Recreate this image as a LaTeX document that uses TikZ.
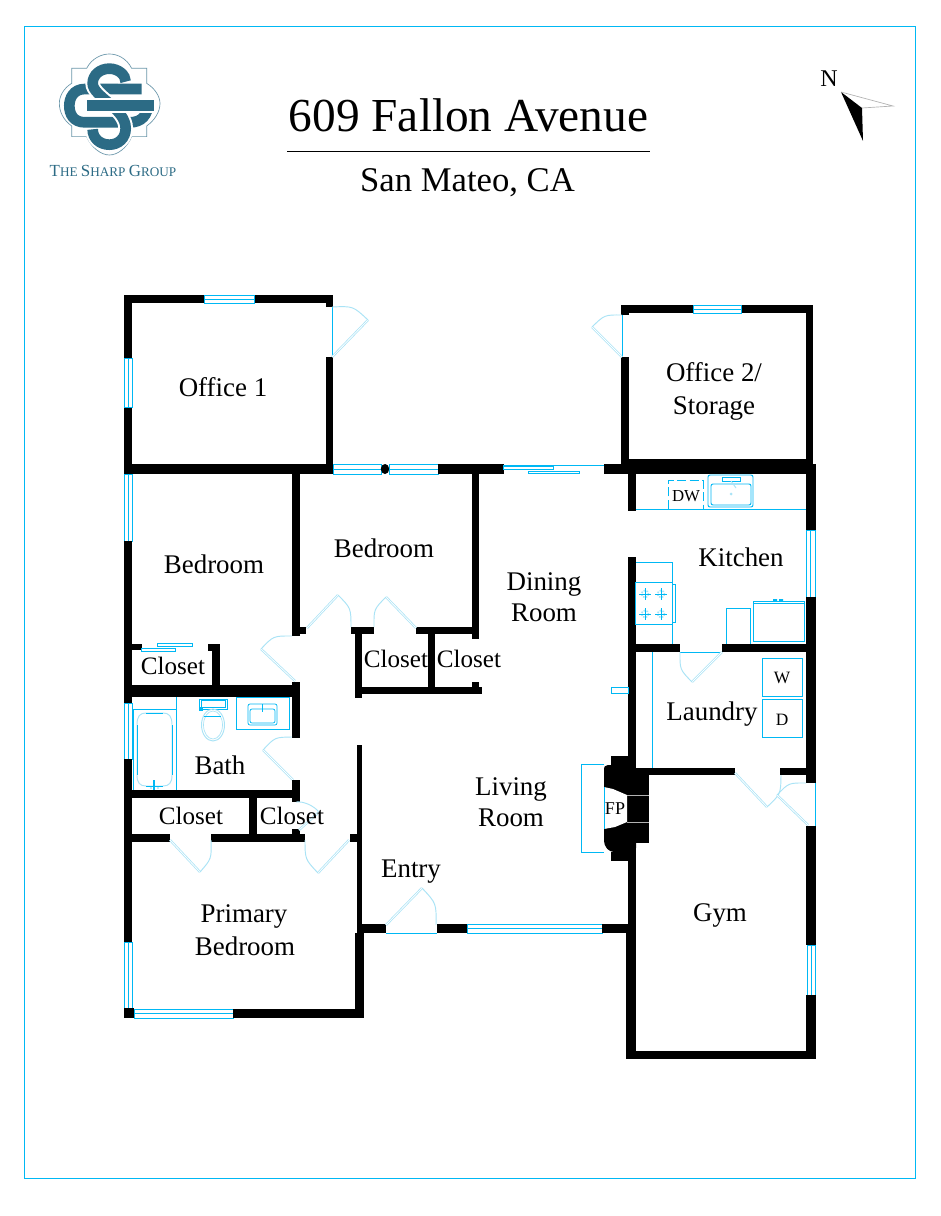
\documentclass[tikz,border=0pt]{standalone}
\usepackage{fontspec}
\setmainfont{Liberation Serif}
\usetikzlibrary{calc}
\definecolor{cy}{HTML}{00B8F4}
\definecolor{cylight}{HTML}{A9E3F6}
\definecolor{teal}{HTML}{2C6B85}
\tikzset{
  wall/.style={fill=black,draw=none},
  cyline/.style={draw=cy,line width=0.72pt},
  cythin/.style={draw=cy,line width=0.55pt},
  room/.style={font=\fontsize{20.2}{24}\selectfont,inner sep=0pt,align=center,text=black},
  clos/.style={font=\fontsize{18.8}{24}\selectfont,inner sep=0pt,align=center,text=black},
  small/.style={font=\fontsize{13}{15}\selectfont,inner sep=0pt,text=black},
}
\newcommand{\wl}[4]{\fill[wall] (#1,#2) rectangle (#3,#4);}
\newcommand{\winH}[4]{\fill[white] (#1,#3) rectangle (#2,#4);
  \draw[cyline] (#1,#3) rectangle (#2,#4);
  \draw[cythin] (#1,{(#3+#4)/2}) -- (#2,{(#3+#4)/2});}
\newcommand{\winV}[4]{\fill[white] (#1,#3) rectangle (#2,#4);
  \draw[cyline] (#1,#3) rectangle (#2,#4);
  \draw[cythin] ({(#1+#2)/2},#3) -- ({(#1+#2)/2},#4);}
% hinge, tip, end of swing
\newcommand{\doorx}[6]{%
  \draw[cylight,line width=1.7pt] (#1,#2) -- (#3,#4);
  \draw[white,line width=0.6pt] (#1,#2) -- (#3,#4);
  \draw[cylight,line width=0.7pt] (#3,#4) .. controls ($(#1,#2)!1.1716!($(#3,#4)!.5!(#5,#6)$)$) .. (#5,#6);}
\begin{document}
\begin{tikzpicture}[x=.75pt,y=-.75pt]
\useasboundingbox (0,0) rectangle (940,1216);
\fill[white] (0,0) rectangle (940,1216);
\draw[cy,line width=0.7pt] (24.5,26) rectangle (915,1178);

% --- logo
\begin{scope}[shift={(30,40)},x=.25pt,y=-.25pt]
  \draw[teal!70,line width=0.5pt] (125,85) -- (170,85) .. controls (185,55) and (215,42) .. (238,42) .. controls (262,42) and (290,55) .. (305,85) -- (350,85) -- (350,130) .. controls (375,145) and (390,170) .. (390,190) .. controls (390,215) and (375,240) .. (350,258) -- (350,290) -- (305,290) .. controls (290,325) and (262,345) .. (238,345) .. controls (215,345) and (185,325) .. (170,290) -- (125,290) -- (125,258) .. controls (100,240) and (88,215) .. (88,190) .. controls (88,170) and (100,145) .. (125,130) -- cycle;
  % left C with top and lower bars
  \draw[teal,line width=8pt] (335,147) -- (165,147) .. controls (130,147) and (118,175) .. (118,197) .. controls (118,222) and (130,247) .. (165,247) -- (290,247);
  % right hook
  \draw[teal,line width=8pt] (354,190) .. controls (354,225) and (335,247) .. (300,247);
  % S
  \draw[white,line width=11pt] (287,125) .. controls (287,105) and (265,86) .. (238,86) .. controls (210,86) and (188,105) .. (188,130) .. controls (188,170) and (287,205) .. (287,265) .. controls (287,295) and (265,314) .. (238,314) .. controls (210,314) and (188,295) .. (188,268);
  \draw[teal,line width=8pt] (287,125) .. controls (287,105) and (265,86) .. (238,86) .. controls (210,86) and (188,105) .. (188,130) .. controls (188,170) and (287,205) .. (287,265) .. controls (287,295) and (265,314) .. (238,314) .. controls (210,314) and (188,295) .. (188,268);
  % middle bar
  \draw[white,line width=11pt] (172,197) -- (372,197);
  \draw[teal,line width=8pt] (172,197) -- (372,197);
\end{scope}
\node[inner sep=0pt,text=teal] (logotext) at (113,171) {\fontsize{12.7}{15}\selectfont T\fontsize{9.9}{15}\selectfont HE \fontsize{12.7}{15}\selectfont S\fontsize{9.9}{15}\selectfont HARP \fontsize{12.7}{15}\selectfont G\fontsize{9.9}{15}\selectfont ROUP};

% --- title
\node[inner sep=0pt] (title) at (468.5,115) {\fontsize{35.5}{40}\selectfont 609 Fallon Avenue};
\draw[black,line width=0.6pt] (287,151) -- (650,151);
\node[inner sep=0pt] (subtitle) at (467.5,183) {\fontsize{26}{30}\selectfont San Mateo, CA};

% --- compass
\node[inner sep=0pt] (north) at (829,79) {\fontsize{18}{22}\selectfont N};
\fill[black] (841,92) -- (862,108) -- (863,141) -- cycle;
\draw[gray!60,line width=0.5pt] (841,92) -- (893,106) -- (862,108);

% --- Office 1
\wl{124}{295}{333}{303}
\wl{124}{295}{132}{474}
\wl{326}{295}{333}{307}
\wl{326}{357}{333}{474}
\wl{124}{464}{333}{474}
\winH{204}{254}{295}{303}
\winV{124}{132}{358}{407}
\draw[cy,line width=0.5pt] (332,307) -- (332,357);
\doorx{332}{357}{368}{320}{332}{307}

% --- row wall
\winH{333}{381}{464}{474}
\fill[black] (385,469) ellipse (4.2 and 5);
\winH{389}{438}{464}{474}
\wl{438}{464}{504}{474}
\wl{604}{464}{816}{474}
% sliding door
\draw[cyline] (503,465) -- (604,465);
\draw[cythin] (503,466) rectangle (553,469);
\draw[cythin] (528,471) rectangle (579,473.5);

% --- Office 2
\wl{621}{305}{813}{313}
\wl{621}{305}{629}{315}
\wl{621}{357}{629}{464}
\wl{806}{305}{813}{464}
\wl{621}{459}{813}{464}
\winH{693}{741}{305}{313}
\draw[cy,line width=0.5pt] (622,315) -- (622,357);
\doorx{622}{357}{592}{327}{622}{315}

% --- Bedrooms
\winV{124}{132}{474}{541}
\wl{124}{541}{132}{703}
\wl{292}{474}{300}{636}
\wl{292}{627}{306}{634}
\wl{472}{474}{479}{639}
\wl{416}{627}{472}{634}
\wl{351}{627}{374}{634}
\wl{355}{634}{362}{698}
\wl{428}{634}{435}{690}
\wl{355}{687}{482}{694}
\wl{472}{682}{479}{687}
\doorx{307}{628}{338}{595}{351}{627}
\doorx{416}{628}{386}{597}{374}{627}
\doorx{295}{681}{261}{649}{292}{636}

% --- Closet bedroom 1
\wl{124}{644}{142}{650}
\wl{208}{644}{220}{651}
\wl{212}{644}{220}{685}
\draw[cythin] (141,648) rectangle (175,651);
\draw[cythin] (157,643) rectangle (192,646);

% --- Bath
\wl{124}{685}{300}{697}
\wl{292}{682}{300}{738}
\winV{124}{132}{703}{759}
\wl{124}{759}{132}{942}
\draw[cyline] (133,709) -- (133,790) -- (176,790) -- (176,697);
\draw[cyline] (133,709) -- (176,709);
\draw[cylight,line width=0.7pt] (137,725) -- (137,775) .. controls (137,783) and (140,786) .. (146,786) -- (163,786) .. controls (169,786) and (172,783) .. (172,775) -- (172,725) .. controls (172,716) and (169,713) .. (163,713) -- (146,713) .. controls (140,713) and (137,716) .. (137,725);
\draw[cythin] (137,725) -- (137,775) (172,725) -- (172,775) (146,786) -- (163,786) (146,713) -- (163,713);
\draw[cy,line width=0.8pt] (154,780) -- (154,790);
\fill[cylight] (151,788) circle (1.2) (158,788) circle (1.2);
% toilet
\draw[cyline] (199,699) rectangle (227,709);
\draw[cythin] (201,700.5) rectangle (225,707.5);
\fill[cy] (199,707) rectangle (203,711);
\draw[cylight,line width=0.7pt] (213,725) ellipse (11.5 and 16);
\draw[cylight,line width=0.5pt] (213,725) ellipse (9.5 and 14);
\draw[cy,line width=0.4pt] (204,716) -- (221,716);
% vanity
\draw[cyline] (236,697) rectangle (289,729);
\draw[cythin,rounded corners=1.5pt] (248,704) rectangle (277,725);
\draw[cythin,rounded corners=1.5pt] (250,709) rectangle (275,723);
\draw[cythin] (262,704) -- (262,712);
\doorx{293}{780}{263}{750}{292}{737}

% --- Closets by primary
\wl{124}{790}{300}{798}
\wl{292}{780}{300}{802}
\wl{292}{829}{300}{834}
\wl{249}{798}{257}{834}
\wl{124}{834}{170}{842}
\wl{211}{834}{305}{842}
\wl{350}{834}{362}{842}
\doorx{170}{840}{200}{872}{211}{840}
\doorx{349}{840}{318}{873}{305}{840}
\draw[cylight,line width=0.7pt] (296,802) .. controls (304,801) and (314,806) .. (319,812);
\draw[cylight,line width=1.7pt] (299,830) -- (319,812);
\draw[white,line width=0.6pt] (299,830) -- (319,812);

% --- Primary
\winV{124}{132}{942}{1008}
\wl{124}{1008}{134}{1018}
\winH{134}{233}{1009}{1018}
\wl{233}{1009}{364}{1018}
\wl{355}{933}{364}{1018}
\wl{357}{745}{362}{933}
\wl{357}{924}{386}{933}

% --- Entry
\wl{437}{924}{467}{933}
\winH{467}{602}{924}{933}
\wl{602}{924}{636}{933}
\draw[cy,line width=0.6pt] (386,933) -- (437,933);
\doorx{386}{925}{422}{888}{436}{925}

% --- Kitchen
\wl{628}{474}{636}{511}
\wl{806}{474}{816}{530}
\winV{806}{815}{530}{597}
\wl{806}{597}{816}{783}
\draw[cyline] (636,509) -- (806,509);
\draw[cy,line width=0.7pt,dash pattern=on 7pt off 2.5pt] (668,509) -- (668,480) -- (703,480) -- (703,509);
\draw[cyline,rounded corners=1.5pt] (708,475) rectangle (753,507);
\draw[cyline,rounded corners=1.5pt] (711,484) rectangle (751,505);
\draw[cythin] (722,477) rectangle (740,481);
\draw[cylight,line width=0.7pt] (731,481) -- (736,488);
\fill[cylight] (731,494) circle (1.5);
\wl{628}{557}{636}{924}
\draw[cyline] (636,562) -- (672,562) -- (672,644);
\draw[cyline,fill=white] (635,582) rectangle (672,624);
\draw[cyline] (672,584) rectangle (675,622);
\foreach \bx/\by in {645/594,661/594,645/614,661/614}{
  \draw[cylight,line width=1.2pt,densely dotted] (\bx,\by) circle (3.5);
  \draw[cy,line width=0.5pt] (\bx-6,\by) -- (\bx+6,\by) (\bx,\by-6) -- (\bx,\by+6);
}
\draw[cyline] (726,644) -- (726,608) -- (750,608) -- (750,644);
\draw[cyline] (753,601) rectangle (804,641);
\draw[cyline] (753,603) -- (804,603);
\fill[cy] (773,599) rectangle (777,601) (779,599) rectangle (783,601);

% --- Laundry
\wl{628}{644}{680}{652}
\wl{722}{644}{816}{652}
\draw[cyline] (652,652) -- (652,768);
\draw[cy,line width=0.6pt] (680,652) -- (722,652);
\doorx{722}{652}{692}{682}{680}{652}
\draw[cyline] (611,687) rectangle (628,693);
\draw[cyline] (762,658) rectangle (802,696);
\draw[cyline] (762,699) rectangle (802,737);
\wl{636}{768}{735}{775}
\wl{780}{768}{816}{775}
\doorx{735}{773}{767}{807}{781}{775}

% --- Fireplace
\draw[cyline] (604,764) -- (581,764) -- (581,852) -- (604,852);
\fill[black] (611,756) rectangle (636,765);
\fill[black] (611,852) rectangle (636,861);
\fill[black,rounded corners=3pt] (604,770) -- (604,765) -- (636,765) -- (636,852) -- (610,852) -- (604,845) -- cycle;
\fill[black] (630,768) rectangle (649,843);
\fill[white] (604,787) -- (613,789) -- (627,795) -- (627,822) -- (615,827) -- (604,829) -- cycle;
\draw[cyline] (604,787) -- (604,829);
\draw[gray!60,line width=0.3pt] (627,795) -- (649,795) (627,822) -- (649,822);

% --- Gym
\wl{806}{826}{816}{945}
\winV{807}{815}{945}{995}
\wl{806}{995}{816}{1059}
\wl{626}{933}{636}{1059}
\wl{626}{1051}{816}{1059}
\draw[cy,line width=0.6pt] (815,783) -- (815,826);
\doorx{808}{825}{777}{795}{806}{783}

% --- labels
\node[room] (n1) at (223,387) {Office 1};
\node[room] (n2) at (714,372) {Office 2/};
\node[room] (n3) at (714,408) {Storage};
\node[room] (n4) at (214,564) {Bedroom};
\node[room] (n5) at (384,548) {Bedroom};
\node[room] (n6) at (544,584) {Dining};
\node[room] (n7) at (544,613) {Room};
\node[room] (n8) at (741,557) {Kitchen};
\node[clos] (n9) at (173,666) {Closet};
\node[clos] (n10) at (396,659) {Closet};
\node[clos] (n11) at (469,659) {Closet};
\node[room] (n12) at (712,714) {Laundry};
\node[room] (n13) at (220,765) {Bath};
\node[clos] (n14) at (191,816) {Closet};
\node[clos] (n15) at (292,816) {Closet};
\node[room] (n16) at (511,789) {Living};
\node[room] (n17) at (511,818) {Room};
\node[room] (n18) at (411,872) {Entry};
\node[room] (n19) at (720,915) {Gym};
\node[room] (n20) at (244,916) {Primary};
\node[room] (n21) at (245,946) {Bedroom};
\node[small,font=\fontsize{13.5}{16}\selectfont] (n22) at (615,809) {FP};
\node[small,font=\fontsize{12.6}{15}\selectfont] (n23) at (686,496) {DW};
\node[small] (n24) at (782,678) {W};
\node[small] (n25) at (782,720) {D};
\end{tikzpicture}
\end{document}
